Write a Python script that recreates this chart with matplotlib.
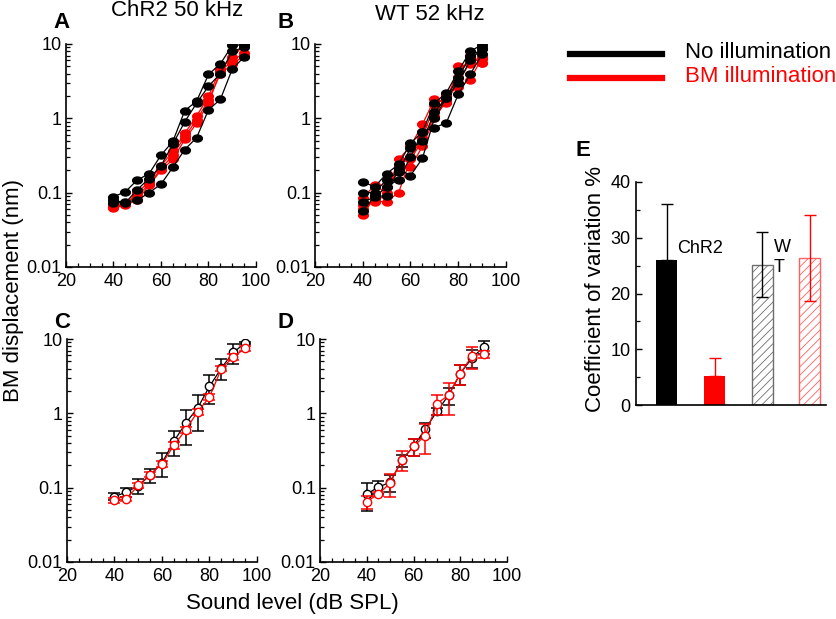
import matplotlib
matplotlib.use("Agg")
import matplotlib.pyplot as plt
from matplotlib.lines import Line2D
from matplotlib.path import Path
from matplotlib.transforms import Affine2D
from matplotlib.ticker import MultipleLocator, LogLocator, FuncFormatter, NullFormatter

plt.rcParams["font.family"] = ["Liberation Sans", "DejaVu Sans"]
plt.rcParams["hatch.linewidth"] = 0.6

# ---- panel A: ChR2 50 kHz, individual animals ----
levels_a = [40, 45, 50, 55, 60, 65, 70, 75, 80, 85, 90, 95]
a_dark = [
    [0.088, 0.103, 0.148, 0.18, 0.32, 0.49, 1.27, 1.7, 3.9, 5.4, 9.6, 9.8],
    [0.079, 0.073, 0.11, 0.155, 0.23, 0.45, 0.9, 1.6, 2.7, 4.0, 8.0, 9.0],
    [0.072, 0.075, 0.079, 0.10, 0.13, 0.22, 0.38, 0.55, 1.3, 1.8, 4.6, 6.7],
]
a_light = [
    [0.065, 0.070, 0.10, 0.14, 0.23, 0.36, 0.63, 1.07, 1.98, 4.6, 6.6, 9.8],
    [0.062, 0.068, 0.08, 0.125, 0.20, 0.28, 0.52, 0.86, 1.6, 4.3, 5.9, 7.6],
    [0.068, 0.072, 0.09, 0.13, 0.21, 0.32, 0.57, 0.95, 1.75, 4.0, 5.3, 7.0],
]

# ---- panel B: WT 52 kHz, individual animals ----
levels_b = [40, 45, 50, 55, 60, 65, 70, 75, 80, 85, 90]
b_dark = [
    [0.14, 0.12, 0.18, 0.24, 0.46, 0.66, 1.6, 2.2, 4.3, 8.0, 9.8],
    [0.10, 0.10, 0.15, 0.19, 0.40, 0.49, 1.2, 1.9, 3.5, 6.9, 8.5],
    [0.075, 0.087, 0.12, 0.15, 0.30, 0.66, 0.75, 0.87, 2.1, 3.9, 7.3],
    [0.056, 0.09, 0.09, 0.21, 0.17, 0.29, 1.0, 1.9, 3.0, 6.0, 8.8],
]
b_light = [
    [0.085, 0.125, 0.10, 0.28, 0.42, 0.83, 1.8, 1.6, 5.0, 5.3, 5.6],
    [0.068, 0.075, 0.076, 0.10, 0.28, 0.50, 1.06, 2.1, 2.6, 3.3, 6.6],
    [0.050, 0.087, 0.12, 0.20, 0.22, 0.42, 1.0, 1.7, 3.0, 5.8, 6.2],
    [0.060, 0.080, 0.09, 0.23, 0.30, 0.55, 1.5, 2.0, 3.6, 7.0, 5.6],
]

# ---- panel C: ChR2 means +- SD ----
c_mean_off = [0.076, 0.087, 0.106, 0.147, 0.215, 0.42, 0.74, 1.18, 2.3, 4.07, 6.6, 8.8]
c_sd_off = [0.008, 0.012, 0.025, 0.03, 0.075, 0.15, 0.36, 0.6, 0.95, 1.25, 2.0, 0.3]
c_mean_on = [0.068, 0.071, 0.107, 0.15, 0.21, 0.37, 0.6, 1.05, 1.65, 4.0, 5.7, 7.5]
c_sd_on = [0.005, 0.005, 0.008, 0.012, 0.02, 0.04, 0.06, 0.1, 0.15, 0.3, 0.5, 0.5]

# ---- panel D: WT means +- SD ----
d_mean_off = [0.082, 0.102, 0.118, 0.233, 0.36, 0.61, 1.06, 1.75, 3.42, 5.55, 7.8]
d_sd_off = [0.033, 0.02, 0.03, 0.045, 0.09, 0.14, 0.12, 0.45, 1.0, 1.5, 1.5]
d_mean_on = [0.065, 0.082, 0.115, 0.237, 0.36, 0.5, 1.35, 1.75, 3.42, 5.9, 6.3]
d_sd_on = [0.013, 0.005, 0.04, 0.07, 0.09, 0.22, 0.4, 0.8, 1.0, 2.0, 0.7]

# ---- panel E: coefficient of variation ----
cv_values = [26.0, 5.2, 25.2, 26.3]
cv_err_low = [0.0, 0.0, 5.8, 7.7]
cv_err_high = [10.0, 3.3, 5.8, 7.7]

W, H = 837, 619
fig = plt.figure(figsize=(W / 100, H / 100), dpi=100)


def box(l, r, t, b):
    return [l / W, 1 - b / H, (r - l) / W, (b - t) / H]


def style_log(ax):
    ax.set_yscale("log")
    ax.set_xlim(20, 100)
    ax.set_ylim(0.01, 10)
    ax.set_xticks([20, 40, 60, 80, 100])
    ax.xaxis.set_minor_locator(MultipleLocator(5))
    ax.yaxis.set_major_locator(LogLocator(base=10))
    ax.yaxis.set_minor_locator(LogLocator(base=10, subs=range(2, 10)))
    ax.yaxis.set_minor_formatter(NullFormatter())
    ax.yaxis.set_major_formatter(FuncFormatter(lambda v, p: "%g" % v))
    for s in ["top", "right"]:
        ax.spines[s].set_visible(False)
    for s in ["left", "bottom"]:
        ax.spines[s].set_linewidth(1.2)
    ax.tick_params(which="major", direction="in", length=4, width=1, labelsize=13)
    ax.tick_params(axis="y", which="major", pad=3)
    ax.tick_params(axis="x", which="major", pad=4)
    ax.tick_params(which="minor", direction="in", length=3, width=0.9)
    ax.patch.set_alpha(0)


ellipse = Path.unit_circle().transformed(Affine2D().scale(1.0, 0.72))

ax_a = fig.add_axes(box(66, 256, 44, 267))
ax_b = fig.add_axes(box(315, 506, 44, 267))
ax_c = fig.add_axes(box(67, 257, 339, 562))
ax_d = fig.add_axes(box(320, 507, 339, 562))

for ax, xs, dark, light in [(ax_a, levels_a, a_dark, a_light), (ax_b, levels_b, b_dark, b_light)]:
    for ys in dark:
        ax.plot(xs, ys, color="black", lw=0.9, marker=ellipse, ms=7, mfc="black", mec="black", zorder=3)
    for ys in light:
        ax.plot(xs, ys, color="red", lw=0.9, marker=ellipse, ms=7, mfc="red", mec="red", zorder=2)
    style_log(ax)

for ax, xs, m0, s0, m1, s1 in [(ax_c, levels_a, c_mean_off, c_sd_off, c_mean_on, c_sd_on),
                               (ax_d, levels_b, d_mean_off, d_sd_off, d_mean_on, d_sd_on)]:
    ax.errorbar(xs, m0, yerr=s0, color="black", lw=0.9, elinewidth=1.1, capsize=4.5, capthick=1.1,
                marker="o", ms=6, mfc="white", mec="black", zorder=2)
    ax.errorbar(xs, m1, yerr=s1, color="red", lw=0.9, elinewidth=1.1, capsize=4.5, capthick=1.1,
                marker="o", ms=6, mfc="white", mec="red", zorder=3)
    style_log(ax)

# panel letters and titles
for lbl, x, y in [("A", 62, 22), ("B", 286, 22), ("C", 62, 323), ("D", 286, 323), ("E", 583, 150)]:
    fig.text(x / W, 1 - y / H, lbl, fontsize=16, fontweight="bold", ha="center", va="center")
fig.text(177 / W, 1 - 11 / H, "ChR2 50 kHz", fontsize=16, ha="center", va="center")
fig.text(430 / W, 1 - 14 / H, "WT 52 kHz", fontsize=16, ha="center", va="center")
fig.text(14 / W, 1 - 290 / H, "BM displacement (nm)", fontsize=16, rotation=90, ha="center", va="center")
fig.text(292 / W, 1 - 604 / H, "Sound level (dB SPL)", fontsize=16, ha="center", va="center")

# legend
fig.add_artist(Line2D([570 / W, 662 / W], [1 - 54 / H, 1 - 54 / H], color="black", lw=4.5))
fig.add_artist(Line2D([570 / W, 662 / W], [1 - 78 / H, 1 - 78 / H], color="red", lw=4.5))
fig.text(685 / W, 1 - 52 / H, "No illumination", fontsize=16, ha="left", va="center")
fig.text(685 / W, 1 - 77 / H, "BM illumination", fontsize=16, color="red", ha="left", va="center")

# panel E
ax_e = fig.add_axes(box(636, 826, 182, 405))
pos = [0, 1, 2, 3]
ax_e.bar(pos[0], cv_values[0], width=0.44, color="black", zorder=2)
ax_e.bar(pos[1], cv_values[1], width=0.44, color="red", zorder=2)
ax_e.bar(pos[2], cv_values[2], width=0.44, facecolor="white", edgecolor="#6e6e6e", hatch="////", lw=1.0, zorder=2)
ax_e.bar(pos[3], cv_values[3], width=0.44, facecolor="white", edgecolor="#ff6060", hatch="////", lw=1.0, zorder=2)
err_colors = ["black", "red", "black", "red"]
for i in range(4):
    ax_e.errorbar(pos[i], cv_values[i], yerr=[[cv_err_low[i]], [cv_err_high[i]]], color=err_colors[i],
                  lw=1.0, capsize=4.5, capthick=1.0, zorder=3)
ax_e.set_xlim(-0.65, 3.34)
ax_e.set_ylim(0, 40)
ax_e.set_xticks([])
ax_e.yaxis.set_major_locator(MultipleLocator(10))
ax_e.yaxis.set_minor_locator(MultipleLocator(5))
for s in ["top", "right"]:
    ax_e.spines[s].set_visible(False)
for s in ["left", "bottom"]:
    ax_e.spines[s].set_linewidth(1.2)
ax_e.tick_params(which="major", direction="in", length=4, width=1, labelsize=13, pad=4)
ax_e.tick_params(which="minor", direction="in", length=3, width=0.9)
ax_e.patch.set_alpha(0)
fig.text(700 / W, 1 - 248 / H, "ChR2", fontsize=13, ha="center", va="center")
fig.text(774 / W, 1 - 247 / H, "W", fontsize=13, ha="left", va="center")
fig.text(774 / W, 1 - 268 / H, "T", fontsize=13, ha="left", va="center")
fig.text(596 / W, 1 - 289 / H, "Coefficient of variation %", fontsize=16, rotation=90, ha="center", va="center")

fig.savefig("out.png", dpi=100)
